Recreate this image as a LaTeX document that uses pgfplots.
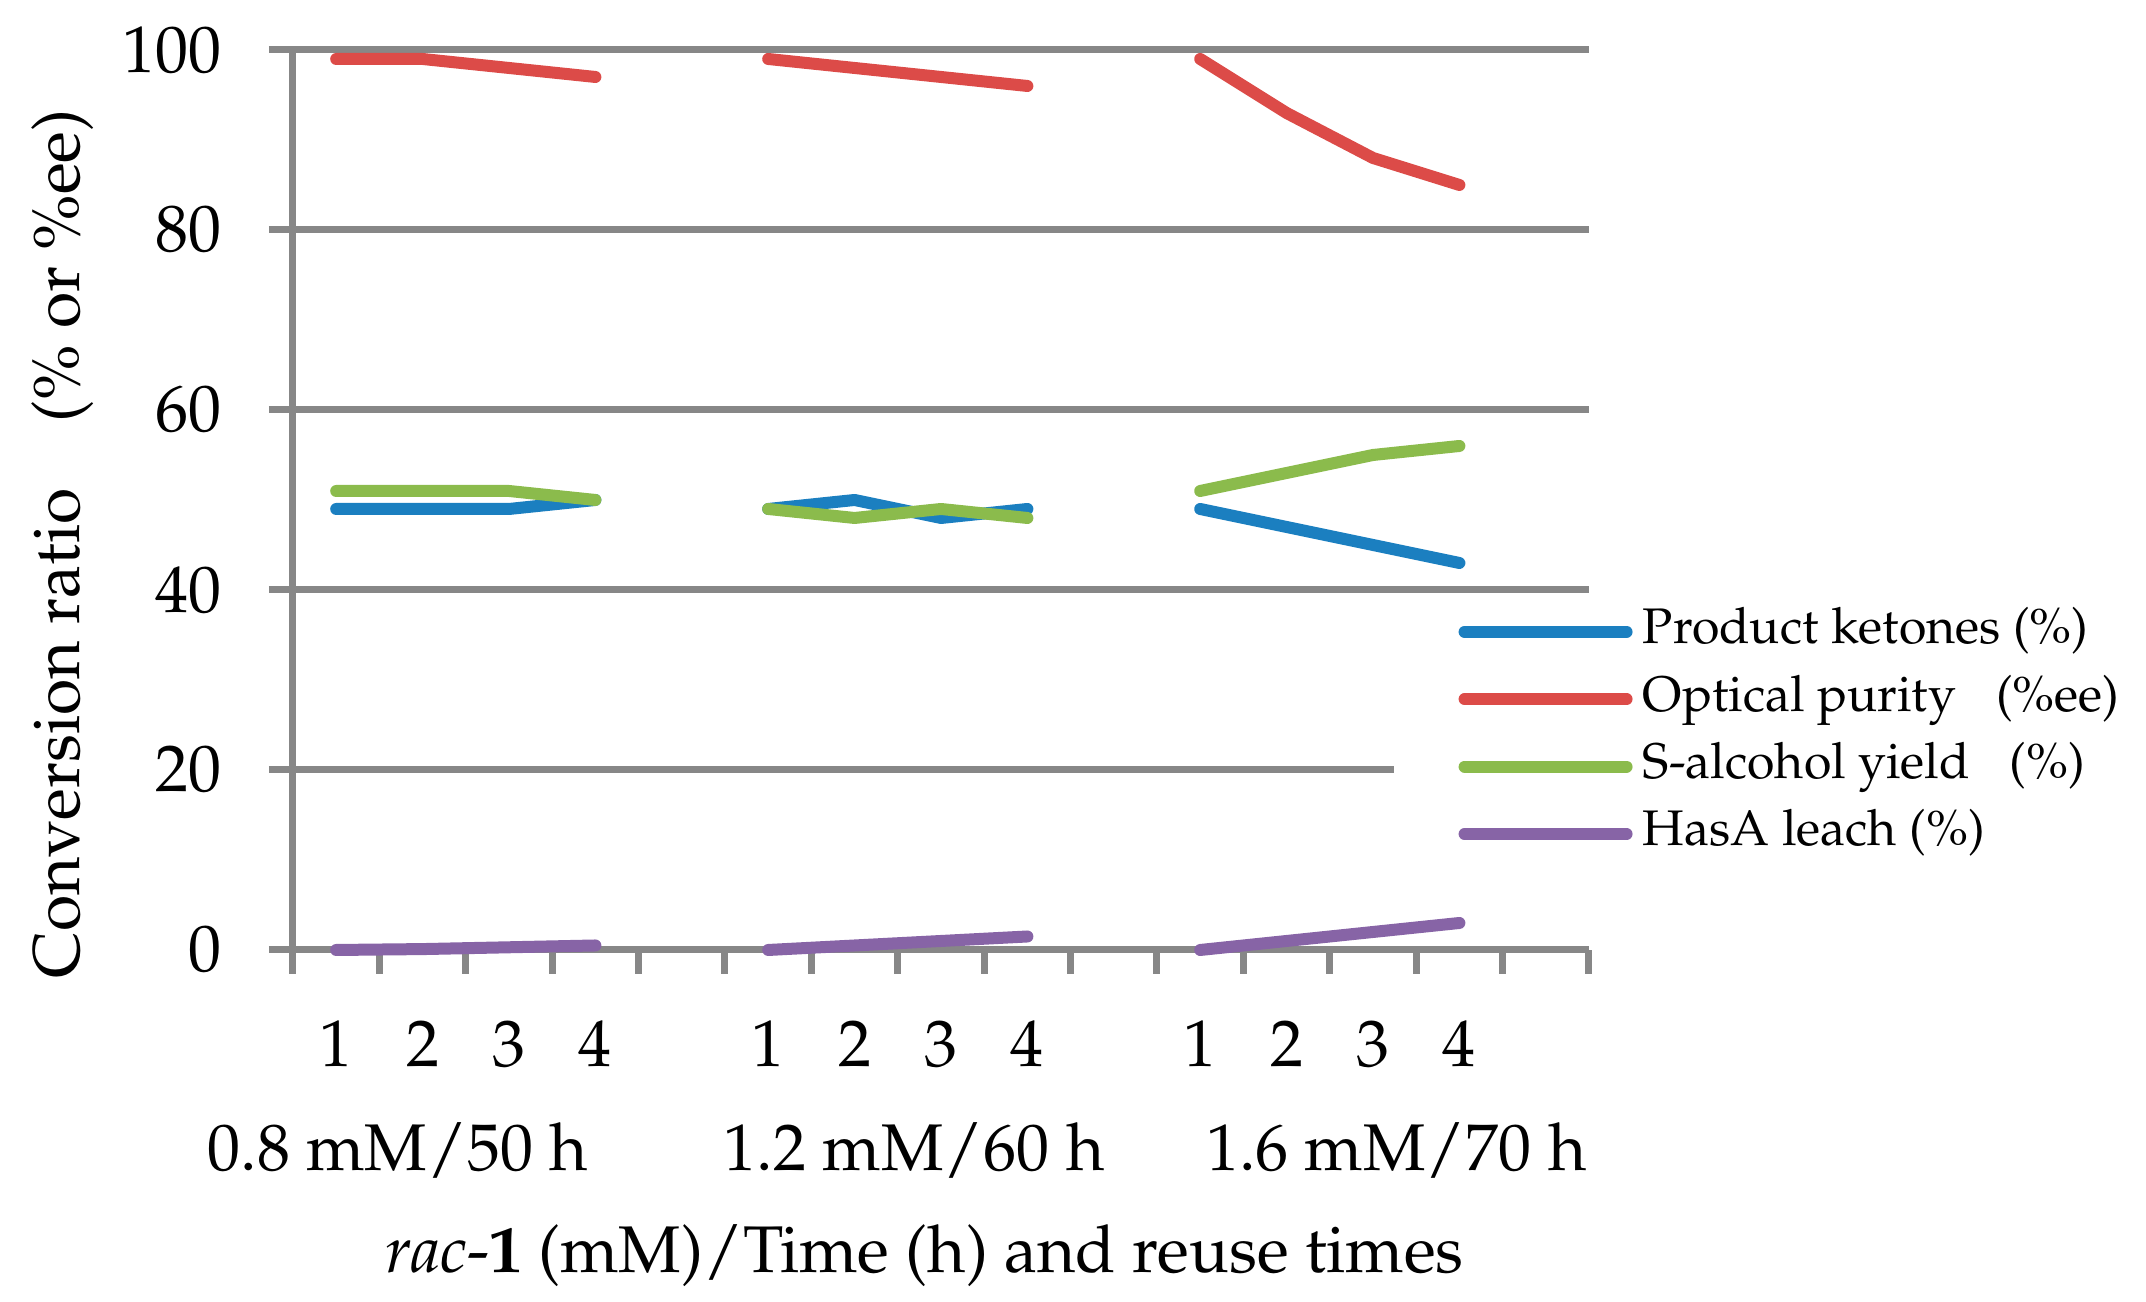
\documentclass[border=0pt]{standalone}
\usepackage[T1]{fontenc}
\usepackage{mathpazo}
\usepackage{pgfplots}
\pgfplotsset{compat=1.18}
\definecolor{cblue}{RGB}{27,127,192}
\definecolor{cred}{RGB}{220,75,72}
\definecolor{cgreen}{RGB}{139,187,76}
\definecolor{cpurple}{RGB}{135,100,166}
\definecolor{cgrid}{RGB}{135,135,135}
\begin{document}
\begin{tikzpicture}
\path[use as bounding box] (-73.25pt,-88pt) rectangle (463.25pt,237.5pt);
\begin{axis}[
  at={(0,0)}, anchor=south west,
  scale only axis, width=324pt, height=225pt,
  clip=false,
  font=\fontsize{16.5}{20}\selectfont,
  xmin=-0.5, xmax=14.5, ymin=0, ymax=100,
  axis x line=bottom, axis y line=left,
  axis line style={-, draw=cgrid, line width=1.75pt},
  xtick={-0.5,0.5,...,14.5}, xticklabels={},
  ytick={0,20,...,100},
  yticklabel style={anchor=east, inner sep=0pt, xshift=-11.75pt},
  ymajorgrids, grid style={draw=cgrid, line width=1.75pt},
  tick align=outside, major tick length=6pt,
  tick style={draw=cgrid, line width=1.75pt},
  unbounded coords=jump,
  every axis plot/.append style={line width=3pt, line cap=round, line join=round},
  legend style={at={(axis cs:12.236,39.0)}, anchor=north west, draw=none, fill=white,
    inner xsep=16.1pt, inner ysep=2pt, font=\fontsize{12.5}{15}\selectfont,
    row sep=4.85pt, column sep=2.6pt,
    nodes={inner sep=0pt, text height=9pt, text depth=3pt}},
  legend cell align=left,
  legend image code/.code={\draw[#1, line cap=round] (0pt,0pt) -- (40.5pt,0pt);},
]
\addplot[cblue] coordinates {(0,49) (1,49) (2,49) (3,50) (4,nan) (5,49) (6,50) (7,48) (8,49) (9,nan) (10,49) (11,47) (12,45) (13,43)};
\addlegendentry{Product ketones (\%)}
\addplot[cred] coordinates {(0,99) (1,99) (2,98) (3,97) (4,nan) (5,99) (6,98) (7,97) (8,96) (9,nan) (10,99) (11,93) (12,88) (13,85)};
\addlegendentry{Optical purity\hspace{0.8em}(\%ee)}
\addplot[cgreen] coordinates {(0,51) (1,51) (2,51) (3,50) (4,nan) (5,49) (6,48) (7,49) (8,48) (9,nan) (10,51) (11,53) (12,55) (13,56)};
\addlegendentry{S-alcohol yield\hspace{0.8em}(\%)}
\addplot[cpurple] coordinates {(0,0) (1,0.1) (2,0.3) (3,0.5) (4,nan) (5,0) (6,0.5) (7,1) (8,1.5) (9,nan) (10,0) (11,1) (12,2) (13,3)};
\addlegendentry{HasA leach (\%)}
% category labels
\node[anchor=base, yshift=-29.25pt] at (axis cs:0,0) {1};
\node[anchor=base, yshift=-29.25pt] at (axis cs:1,0) {2};
\node[anchor=base, yshift=-29.25pt] at (axis cs:2,0) {3};
\node[anchor=base, yshift=-29.25pt] at (axis cs:3,0) {4};
\node[anchor=base, yshift=-29.25pt] at (axis cs:5,0) {1};
\node[anchor=base, yshift=-29.25pt] at (axis cs:6,0) {2};
\node[anchor=base, yshift=-29.25pt] at (axis cs:7,0) {3};
\node[anchor=base, yshift=-29.25pt] at (axis cs:8,0) {4};
\node[anchor=base, yshift=-29.25pt] at (axis cs:10,0) {1};
\node[anchor=base, yshift=-29.25pt] at (axis cs:11,0) {2};
\node[anchor=base, yshift=-29.25pt] at (axis cs:12,0) {3};
\node[anchor=base, yshift=-29.25pt] at (axis cs:13,0) {4};
\node[anchor=base, yshift=-55.25pt] at (axis cs:0.715,0) {0.8 mM/50 h};
\node[anchor=base, yshift=-55.25pt] at (axis cs:6.69,0) {1.2 mM/60 h};
\node[anchor=base, yshift=-55.25pt] at (axis cs:12.27,0) {1.6 mM/70 h};
\node[anchor=base, yshift=-80.75pt] at (axis cs:6.81,0) {\textit{rac}-\textbf{1} (mM)/Time (h) and reuse times};
\node[anchor=base, rotate=90] at ([xshift=-53.25pt]axis cs:-0.5,45.1) {Conversion ratio\hspace{1em}(\% or \%ee)};
\end{axis}
\end{tikzpicture}
\end{document}
